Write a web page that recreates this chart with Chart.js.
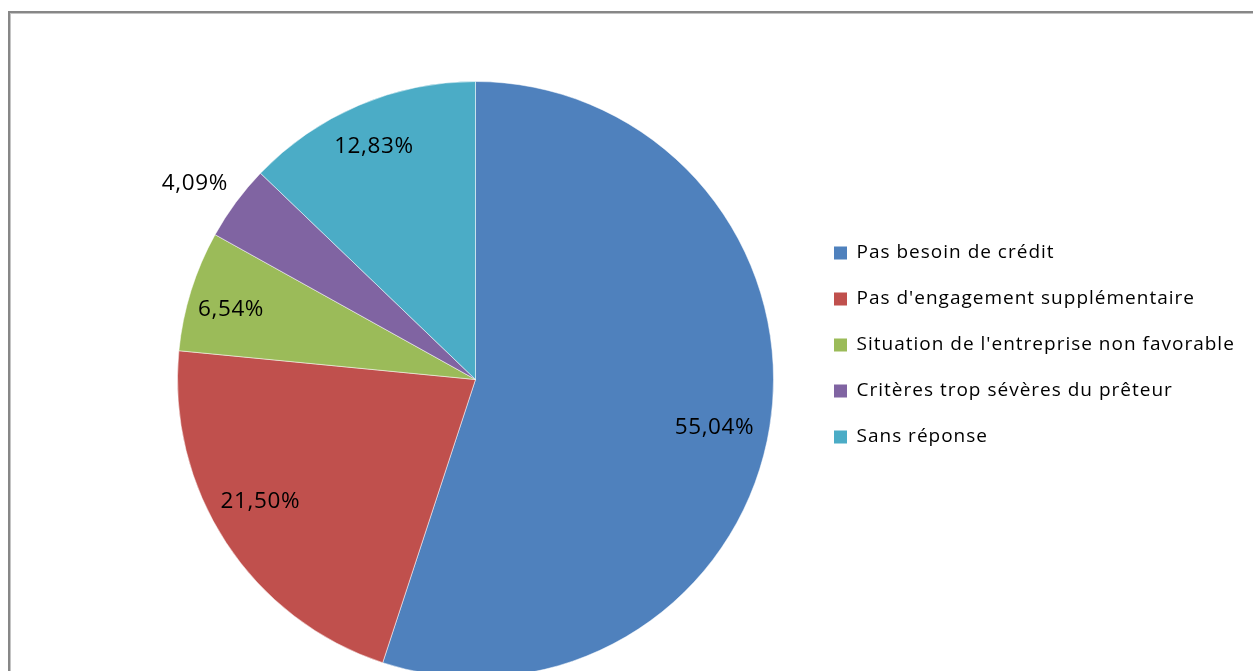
<!DOCTYPE html>
<html><head><meta charset="utf-8">
<script src="https://cdn.jsdelivr.net/npm/chart.js@4.4.0/dist/chart.umd.min.js"></script>
<style>
html,body{margin:0;padding:0;background:#fff;overflow:hidden;width:1253px;height:671px;}
#frame{position:absolute;left:8px;top:11px;width:1260px;height:720px;border-left:2px solid #878787;border-top:2px solid #878787;box-shadow:inset 1px 1px 0 #c4c4c4;}
#wrap{position:absolute;left:0;top:0;width:1253px;height:760px;}
</style></head><body>
<div id="frame"></div>
<div id="wrap"><canvas id="c" width="1253" height="760"></canvas></div>
<script>
const categories = [
  'Pas besoin de crédit',
  "Pas d'engagement supplémentaire",
  "Situation de l'entreprise non favorable",
  'Critères trop sévères du prêteur',
  'Sans réponse'
];
const values = [55.04, 21.50, 6.54, 4.09, 12.83];
const colors = ['#4F81BD', '#C0504D', '#9BBB59', '#8064A2', '#4BACC6'];
// label placement (fraction of radius, angular shift in degrees)
const labelRadius = [0.818, 0.83, 0.853, 1.149, 0.852];
const labelAngleShift = [2.3, 3.6, -1.4, -1.5, -0.5];

const fmt = v => v.toFixed(2).replace('.', ',') + '%';

const textSpacing = {
  id: 'textSpacing',
  beforeUpdate(chart) { if ('letterSpacing' in chart.ctx) chart.ctx.letterSpacing = '1px'; },
  beforeDraw(chart) { if ('letterSpacing' in chart.ctx) chart.ctx.letterSpacing = '1px'; }
};

const legendPlacement = {
  id: 'legendPlacement',
  afterLayout(chart) {
    const lg = chart.legend;
    lg.left = 807; lg.right = 1253; lg.top = 216.5; lg.bottom = 720;
  }
};

const pieLabels = {
  id: 'pieLabels',
  afterDatasetsDraw(chart) {
    const ctx = chart.ctx;
    const meta = chart.getDatasetMeta(0);
    ctx.save();
    if ('letterSpacing' in ctx) ctx.letterSpacing = '0.6px';
    ctx.font = '22.5px "Open Sans"';
    ctx.fillStyle = '#000';
    ctx.textAlign = 'center';
    ctx.textBaseline = 'middle';
    meta.data.forEach((arc, i) => {
      const p = arc.getProps(['x', 'y', 'startAngle', 'endAngle', 'outerRadius'], true);
      const a = (p.startAngle + p.endAngle) / 2 + labelAngleShift[i] * Math.PI / 180;
      const r = p.outerRadius * labelRadius[i];
      ctx.fillText(fmt(values[i]), p.x + Math.cos(a) * r, p.y + Math.sin(a) * r);
    });
    ctx.restore();
  }
};

new Chart(document.getElementById('c'), {
  type: 'pie',
  data: {
    labels: categories,
    datasets: [{
      data: values,
      backgroundColor: colors,
      borderColor: 'rgba(255,255,255,0.5)',
      borderWidth: 1
    }]
  },
  options: {
    responsive: false,
    animation: false,
    devicePixelRatio: 1,
    layout: { padding: { left: 177, right: 479, top: 81, bottom: 82 } },
    plugins: {
      tooltip: { enabled: false },
      legend: {
        position: 'chartArea',
        align: 'start',
        labels: {
          boxWidth: 13,
          boxHeight: 13,
          padding: 27,
          color: '#000',
          font: { family: '"Open Sans"', size: 19 },
          generateLabels(chart) {
            return chart.data.labels.map((t, i) => ({
              text: t, fillStyle: colors[i], strokeStyle: colors[i], lineWidth: 0, hidden: false, index: i
            }));
          }
        }
      }
    }
  },
  plugins: [textSpacing, legendPlacement, pieLabels]
});
</script>
</body></html>
